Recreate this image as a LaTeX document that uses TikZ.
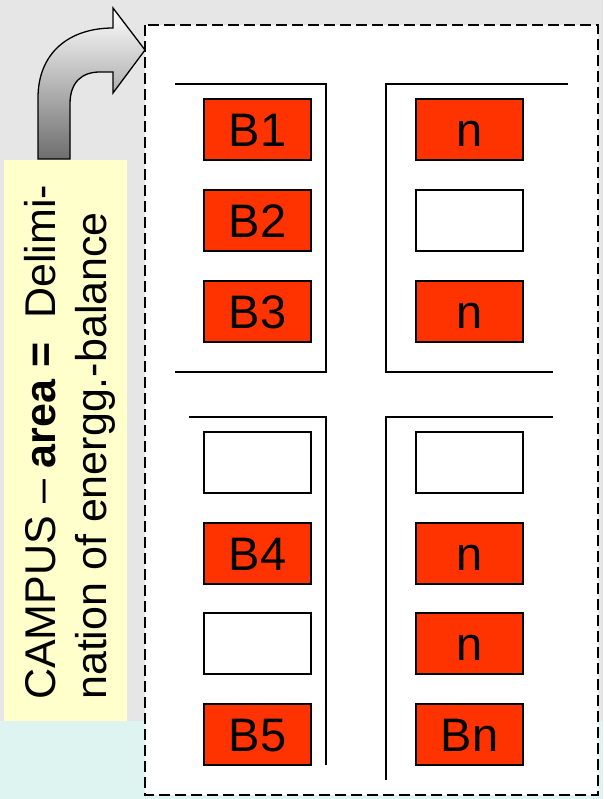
\documentclass[tikz,border=0pt]{standalone}
\usepackage{fontspec}
\setmainfont{Liberation Sans}
\definecolor{bggray}{RGB}{230,230,230}
\definecolor{bgcyan}{RGB}{222,244,240}
\definecolor{labelyellow}{RGB}{255,255,204}
\definecolor{bred}{RGB}{255,51,0}
\definecolor{arrowdark}{RGB}{110,110,110}
\begin{document}
\begin{tikzpicture}[x=1pt,y=-1pt,
  bldg/.style={draw=black,line width=1.5pt,minimum width=107pt,minimum height=61pt,inner sep=0pt,
    text height=34pt,text depth=0pt,font=\fontsize{47}{47}\selectfont},
  full/.style={bldg,fill=bred},
  empty/.style={bldg,fill=white},
  wall/.style={line width=1.3pt,line join=miter}]
\useasboundingbox (0,0) rectangle (603,799);
% backgrounds
\fill[bggray] (0,0) rectangle (603,799);
\fill[bgcyan] (0,721) rectangle (603,799);
% label box
\fill[labelyellow] (4,160) rectangle (127,721);
\node[rotate=90,anchor=base west,inner sep=0pt,align=left,
  font=\fontsize{43}{51}\selectfont] (label) at (106,700)
  {CAMPUS -- \textbf{area =}~ Delimi-\\nation of energg.-balance};
% bent arrow
\path[draw=black,line width=1.3pt,line join=miter,top color=white,bottom color=arrowdark]
  (38,159) -- (38,98) .. controls (38,52) and (70,28) .. (113,28)
  -- (113,8) -- (145,50) -- (113,93) -- (113,72) -- (100,72)
  .. controls (82,72) and (70,82) .. (70,104) -- (70,159) -- cycle;
% dashed area
\draw[fill=white,line width=1.3pt,dash pattern=on 11pt off 5pt] (145,25) rectangle (598,795);
% walls
\draw[wall] (175,84) -- (326,84) -- (326,372) -- (175,372);
\draw[wall] (568,84) -- (386,84) -- (386,372) -- (553,372);
\draw[wall] (189,417) -- (326,417) -- (326,765);
\draw[wall] (553,417) -- (386,417) -- (386,780);
% buildings left
\node[full]  (b1) at (257.5,129.5) {B1};
\node[full]  (b2) at (257.5,220.5) {B2};
\node[full]  (b3) at (257.5,311.5) {B3};
\node[empty] (l4) at (257.5,462.5) {};
\node[full]  (b4) at (257.5,553.5) {B4};
\node[empty] (l6) at (257.5,643.5) {};
\node[full]  (b5) at (257.5,734.5) {B5};
% buildings right
\node[full]  (r1) at (469.5,129.5) {n};
\node[empty] (r2) at (469.5,220.5) {};
\node[full]  (r3) at (469.5,311.5) {n};
\node[empty] (r4) at (469.5,462.5) {};
\node[full]  (r5) at (469.5,553.5) {n};
\node[full]  (r6) at (469.5,643.5) {n};
\node[full]  (bn) at (469.5,734.5) {Bn};
\end{tikzpicture}
\end{document}
